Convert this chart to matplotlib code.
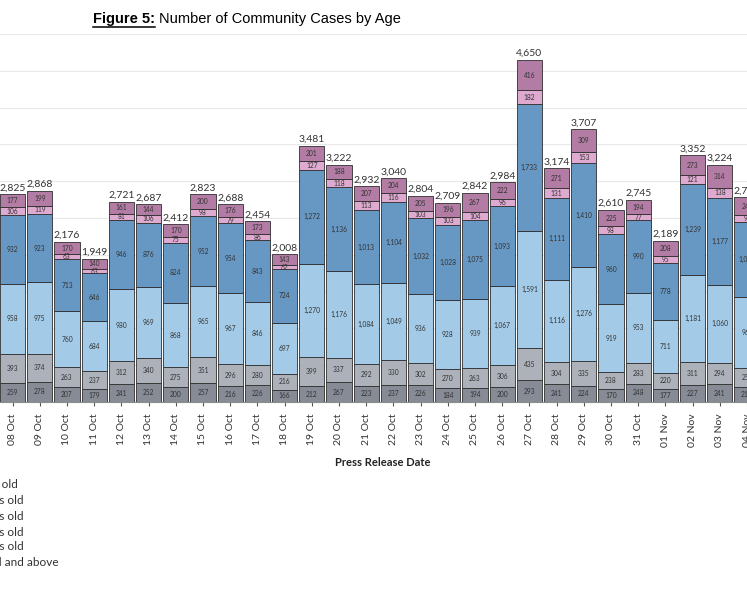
import numpy as np
import matplotlib.pyplot as plt
from matplotlib.lines import Line2D

# --- dane ---
dates = ["08 Oct", "09 Oct", "10 Oct", "11 Oct", "12 Oct", "13 Oct", "14 Oct",
         "15 Oct", "16 Oct", "17 Oct", "18 Oct", "19 Oct", "20 Oct", "21 Oct",
         "22 Oct", "23 Oct", "24 Oct", "25 Oct", "26 Oct", "27 Oct", "28 Oct",
         "29 Oct", "30 Oct", "31 Oct", "01 Nov", "02 Nov", "03 Nov", "04 Nov"]

age_groups = ["0 - 11 years old", "12 - 19 years old", "20 - 39 years old",
              "40 - 59 years old", "60 - 69 years old", "70 years old and above"]

age_0_11 = [259, 278, 207, 179, 241, 252, 200, 257, 216, 226, 166, 212, 267, 223,
            237, 226, 184, 194, 200, 293, 241, 224, 170, 248, 177, 227, 241, 210]
age_12_19 = [393, 374, 263, 237, 312, 340, 275, 351, 296, 280, 216, 399, 337, 292,
             330, 302, 270, 263, 306, 435, 304, 335, 238, 283, 220, 311, 294, 250]
age_20_39 = [958, 975, 760, 684, 980, 969, 868, 965, 967, 846, 697, 1270, 1176, 1084,
             1049, 936, 928, 939, 1067, 1591, 1116, 1276, 919, 953, 711, 1181, 1060, 960]
age_40_59 = [932, 923, 713, 646, 946, 876, 824, 952, 954, 843, 724, 1272, 1136, 1013,
             1104, 1032, 1028, 1075, 1093, 1733, 1111, 1410, 960, 990, 778, 1239, 1177, 1030]
age_60_69 = [106, 119, 63, 63, 81, 106, 75, 98, 79, 86, 62, 127, 118, 113,
             116, 103, 103, 104, 96, 182, 131, 153, 98, 77, 95, 121, 138, 90]
age_70_up = [177, 199, 170, 140, 161, 144, 170, 200, 176, 173, 143, 201, 188, 207,
             204, 205, 196, 267, 222, 416, 271, 309, 225, 194, 208, 273, 314, 240]

series = [age_0_11, age_12_19, age_20_39, age_40_59, age_60_69, age_70_up]
colors = ["#868b95", "#adb1ba", "#a3cbe8", "#6798c3", "#dfaad0", "#b27ca4"]

W, H = 747, 598
fig = plt.figure(figsize=(W / 100, H / 100), dpi=100)
ax = fig.add_axes([0, 1 - 402 / H, 1, (402 - 34) / H])

x = np.arange(len(dates))
bottom = np.zeros(len(dates))
for vals, col in zip(series, colors):
    vals = np.array(vals)
    ax.bar(x, vals, width=0.92, bottom=bottom, color=col,
           edgecolor="#2e2e2e", linewidth=0.6, zorder=2)
    for xi, b, v in zip(x, bottom, vals):
        ax.text(xi, b + v / 2, f"{v:,}", ha="center", va="center",
                fontsize=4.8, color="#333333", family="Lato", zorder=3)
    bottom += vals

# sumy nad słupkami
for xi, tot in zip(x, bottom):
    ax.text(xi, tot + 25, f"{int(tot):,}", ha="center", va="bottom",
            fontsize=7.5, color="#333333", family="Lato", zorder=3)

ax.set_xlim(-0.463, 26.75)
ax.set_ylim(0, 5000)
ax.set_yticks(np.arange(0, 5001, 500))
ax.yaxis.grid(True, color="#e8e8e8", linewidth=0.8)
ax.set_axisbelow(True)
ax.tick_params(axis="y", left=False, labelleft=False)
for s in ["left", "right", "top"]:
    ax.spines[s].set_visible(False)
ax.spines["bottom"].set_color("#8c8c8c")

ax.set_xticks(x)
ax.set_xticklabels(dates, rotation=90, fontsize=7.5, color="#333333", family="Lato")
ax.tick_params(axis="x", length=3, color="#555555", pad=5)
ax.set_xlabel("Press Release Date", fontsize=8, fontweight="bold", family="Lato",
              color="#222222")
ax.xaxis.set_label_coords(383 / W, -(457 - 402) / (402 - 34))

# tytuł z podkreśleniem - dopasowanie szerokości do oryginału (93..400 px)
title_font = ["Liberation Sans Narrow", "Liberation Sans"]
fs = 14
t1 = fig.text(93 / W, 1 - 19 / H, "Figure 5:", fontsize=fs, fontweight="bold",
              family=title_font, va="center", ha="left")
t2 = fig.text(0, 1 - 19 / H, "Number of Community Cases by Age", fontsize=fs,
              family=title_font, va="center", ha="left")
fig.canvas.draw()
r = fig.canvas.get_renderer()
total = t1.get_window_extent(r).width + 4 + t2.get_window_extent(r).width
fs = fs * 307 / total
t1.set_fontsize(fs)
t2.set_fontsize(fs)
fig.canvas.draw()
bb = t1.get_window_extent(r)
t2.set_x((bb.x1 + 4) / W)
fig.add_artist(Line2D([bb.x0 / W, bb.x1 / W], [(bb.y0 - 1) / H, (bb.y0 - 1) / H],
                      transform=fig.transFigure, color="black", linewidth=1.1))

# legenda (ucięta z lewej strony)
leg_y = [485, 500, 516, 532, 547, 563]
leg_end = [18, 24, 24, 24, 24, 59]
for lab, yy, xe in zip(age_groups, leg_y, leg_end):
    fig.text(xe / W, 1 - yy / H, lab, ha="right", va="center", fontsize=8.5,
             color="#333333", family="Lato")

fig.savefig("out.png", dpi=100)
